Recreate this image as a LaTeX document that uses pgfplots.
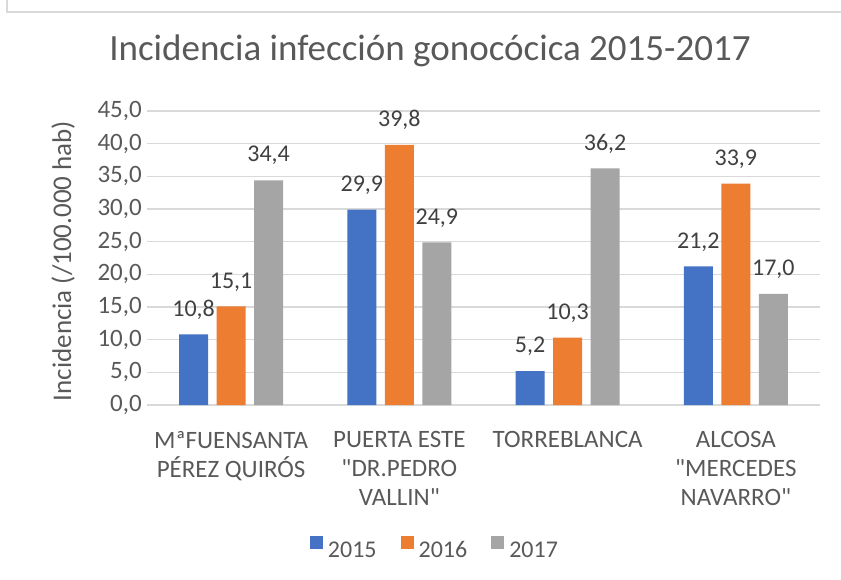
\documentclass[border=0pt]{standalone}
\usepackage{fontspec}
\setmainfont{Carlito}[Ligatures=TeXOff]
\usepackage{pgfplots}
\pgfplotsset{compat=1.18}
\definecolor{txt}{HTML}{595959}
\definecolor{lbl}{HTML}{404040}
\definecolor{grd}{HTML}{D9D9D9}
\definecolor{cA}{HTML}{4472C4}
\definecolor{cB}{HTML}{ED7D31}
\definecolor{cC}{HTML}{A5A5A5}
\newcommand\qq{\char34\relax}
\begin{document}
\begin{tikzpicture}
\useasboundingbox (0,0) rectangle (841pt,579pt);
\begin{axis}[
  at={(147pt,174pt)}, anchor=south west,
  scale only axis, width=673pt, height=294pt,
  ybar=8.5pt, bar width=29pt,
  xmin=-0.5, xmax=3.5, ymin=0, ymax=45,
  xtick={0,1,2,3},
  xticklabels={{MªFUENSANTA\\PÉREZ QUIRÓS},{PUERTA ESTE\\\qq DR.PEDRO\\VALLIN\qq},{TORREBLANCA},{ALCOSA\\\qq MERCEDES\\NAVARRO\qq}},
  ytick={0,5,10,15,20,25,30,35,40,45},
  ymajorgrids, grid style={grd, line width=1.3pt},
  axis line style={draw=none},
  major tick length=0pt,
  ticklabel style={font=\fontsize{25}{29}\selectfont, text=txt},
  xticklabel style={align=center, anchor=north, inner sep=0pt, yshift=-26pt},
  yticklabel style={anchor=east, inner sep=0pt, xshift=-5pt,
    /pgf/number format/.cd, fixed, fixed zerofill, precision=1, use comma, assume math mode=true},
  ylabel={Incidencia (/100.000 hab)},
  ylabel style={at={(axis description cs:-0.1248,0.49)}, anchor=center, font=\fontsize{27}{30}\selectfont, text=txt, inner sep=0pt},
  title={Incidencia infección gonocócica 2015-2017},
  title style={at={(axis description cs:0.4205,1.1497)}, anchor=base, font=\fontsize{37}{40}\selectfont, text=txt, inner sep=0pt},
  nodes near coords={\pgfmathprintnumber[fixed,fixed zerofill,precision=1,use comma,assume math mode=true]{\pgfplotspointmeta}},
  nodes near coords style={font=\fontsize{24}{27}\selectfont, text=lbl, inner sep=0pt, anchor=south, yshift=15pt},
  legend columns=3,
  legend style={at={(0.4264,-0.486)}, anchor=center, draw=none, fill=none,
    font=\fontsize{24}{27}\selectfont, text=txt, inner sep=0pt, nodes={inner sep=0pt},
    /tikz/every odd column/.append style={column sep=5pt},
    /tikz/every even column/.append style={column sep=24pt}},
]
\addplot[fill=cA, draw=none, legend image code/.code={\fill[cA] (0pt,1pt) rectangle (13pt,14pt);}] coordinates {(0,10.8) (1,29.9) (2,5.2) (3,21.2)};
\addplot[fill=cB, draw=none, legend image code/.code={\fill[cB] (0pt,1pt) rectangle (13pt,14pt);}] coordinates {(0,15.1) (1,39.8) (2,10.3) (3,33.9)};
\addplot[fill=cC, draw=none, legend image code/.code={\fill[cC] (0pt,1pt) rectangle (13pt,14pt);}] coordinates {(0,34.4) (1,24.9) (2,36.2) (3,17.0)};
\legend{2015,2016,2017}
\end{axis}
\draw[grd, line width=1.5pt] (7pt,579pt) -- (7pt,567pt) -- (841pt,567pt);
\end{tikzpicture}
\end{document}
